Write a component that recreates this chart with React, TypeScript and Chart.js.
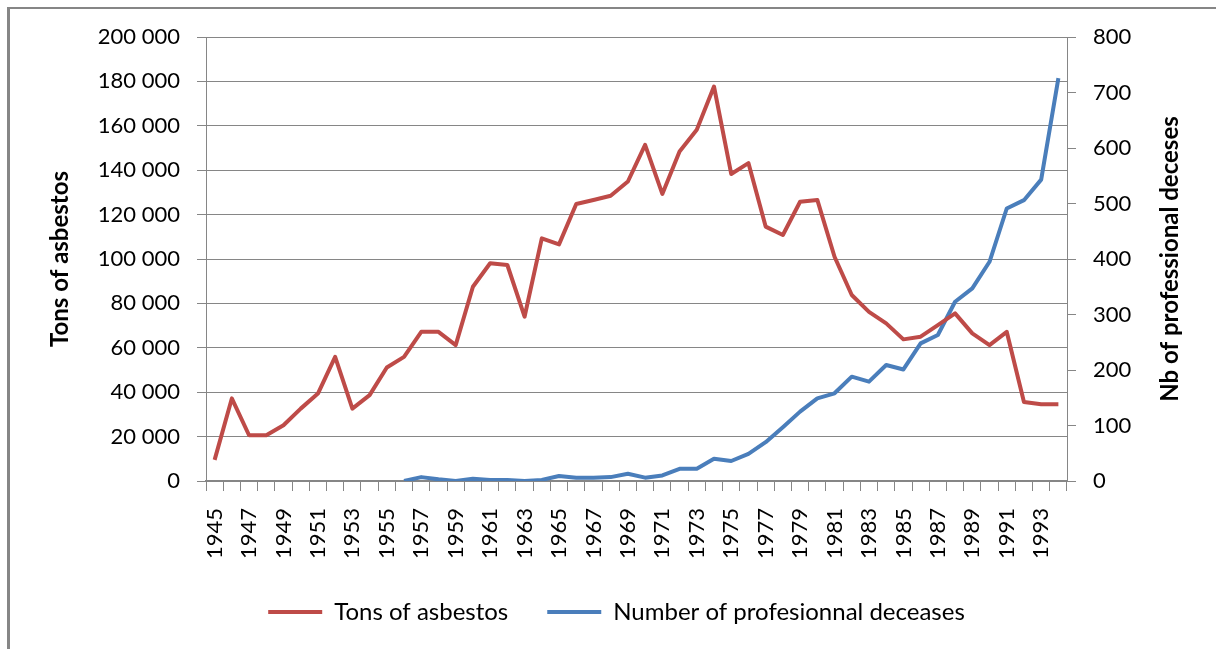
import React, { useEffect, useRef } from 'react';
import { Chart, registerables, Legend } from 'chart.js';

Chart.register(...registerables);

const years = [
  '1945', '1946', '1947', '1948', '1949', '1950', '1951', '1952', '1953', '1954',
  '1955', '1956', '1957', '1958', '1959', '1960', '1961', '1962', '1963', '1964',
  '1965', '1966', '1967', '1968', '1969', '1970', '1971', '1972', '1973', '1974',
  '1975', '1976', '1977', '1978', '1979', '1980', '1981', '1982', '1983', '1984',
  '1985', '1986', '1987', '1988', '1989', '1990', '1991', '1992', '1993', '1994',
];

const tonsOfAsbestos = [
  9500, 37200, 20600, 20600, 25100, 32600, 39400, 55900, 32600, 38700,
  51100, 55900, 67200, 67200, 61200, 87500, 98100, 97300, 74000, 109300,
  106600, 124800, 126600, 128500, 134900, 151400, 129300, 148400, 158200, 177700,
  138300, 143200, 114600, 110800, 125800, 126600, 101000, 83800, 76200, 71000,
  63800, 65000, 70200, 75500, 66500, 61200, 67200, 35600, 34600, 34600,
];

const professionalDeceases = [
  null, null, null, null, null, null, null, null, null, null,
  null, 0, 7, 3, 0, 4, 2, 2, 0, 2,
  9, 6, 6, 7, 13, 6, 10, 22, 22, 40,
  36, 49, 70, 97, 125, 149, 158, 188, 179, 209,
  201, 248, 263, 323, 347, 395, 491, 506, 543, 726,
];

const seriesLabels = ['Tons of asbestos', 'Number of profesionnal deceases'];
const axisTitles = ['Tons of asbestos', 'Nb of professional deceses'];

const RED = '#BE4B48';
const BLUE = '#4A7EBB';
const GRID = '#868686';
const FONT = 'Lato';

const fmtThousands = (v: number) =>
  String(v).replace(/\B(?=(\d{3})+(?!\d))/g, ' ');

// Draws the right-hand axis title reading bottom-to-top (as in the reference)
const rightTitlePlugin = {
  id: 'rightTitle',
  afterDraw(chart: any) {
    const { ctx, chartArea } = chart;
    const scale = chart.scales.y1;
    ctx.save();
    ctx.font = `bold 24px ${FONT}`;
    ctx.fillStyle = '#000';
    ctx.textAlign = 'center';
    ctx.textBaseline = 'middle';
    ctx.translate(scale.right - 46, (chartArea.top + chartArea.bottom) / 2);
    ctx.rotate(-Math.PI / 2);
    ctx.fillText(axisTitles[1], 0, 0);
    ctx.restore();
  },
};

export default function App() {
  const canvasRef = useRef<HTMLCanvasElement | null>(null);

  useEffect(() => {
    const canvas = canvasRef.current;
    if (!canvas) return;
    const defaultGen = (Legend as any).defaults.labels.generateLabels;
    const chart = new Chart(canvas, {
      type: 'line',
      data: {
        labels: years,
        datasets: [
          {
            label: seriesLabels[0],
            data: tonsOfAsbestos,
            borderColor: RED,
            backgroundColor: RED,
            borderWidth: 4,
            pointRadius: 0,
            tension: 0,
            borderJoinStyle: 'round',
            yAxisID: 'y',
          },
          {
            label: seriesLabels[1],
            data: professionalDeceases,
            borderColor: BLUE,
            backgroundColor: BLUE,
            borderWidth: 4,
            pointRadius: 0,
            tension: 0,
            borderJoinStyle: 'round',
            yAxisID: 'y1',
          },
        ],
      },
      options: {
        responsive: false,
        animation: false,
        layout: { padding: { top: 37, bottom: 15, left: 17, right: 0 } },
        plugins: {
          tooltip: { enabled: false },
          legend: {
            position: 'bottom',
            labels: {
              color: '#000',
              font: { family: FONT, size: 24 },
              boxWidth: 54,
              boxHeight: 4,
              padding: 39,
              generateLabels: (c: any) =>
                defaultGen(c).map((l: any) => ({ ...l, lineWidth: 0 })),
            },
          },
        },
        scales: {
          x: {
            type: 'category',
            offset: true,
            grid: {
              offset: true,
              drawOnChartArea: false,
              drawTicks: true,
              tickLength: 10,
              color: GRID,
              lineWidth: 1,
            },
            border: { display: true, color: GRID, width: 2 },
            ticks: {
              autoSkip: false,
              minRotation: 90,
              maxRotation: 90,
              padding: 17,
              color: '#000',
              font: { family: FONT, size: 22 },
              callback: (_v: any, i: number) => (i % 2 === 0 ? years[i] : ''),
            },
            afterFit: (s: any) => {
              s.height = 80;
            },
          },
          y: {
            position: 'left',
            min: 0,
            max: 200000,
            ticks: {
              stepSize: 20000,
              padding: 17,
              color: '#000',
              font: { family: FONT, size: 22 },
              callback: (v: any) => fmtThousands(Number(v)),
            },
            grid: { color: GRID, lineWidth: 1, tickLength: 9, drawTicks: true },
            border: { display: true, color: GRID, width: 1 },
            title: {
              display: true,
              text: axisTitles[0],
              color: '#000',
              font: { family: FONT, size: 24, weight: 'bold' },
              padding: { top: 28.6, bottom: 0 },
            },
            afterFit: (s: any) => {
              s.width = 189;
            },
          },
          y1: {
            position: 'right',
            min: 0,
            max: 800,
            ticks: {
              stepSize: 100,
              padding: 17,
              color: '#000',
              font: { family: FONT, size: 22 },
            },
            grid: {
              drawOnChartArea: false,
              color: GRID,
              lineWidth: 1,
              tickLength: 9,
              drawTicks: true,
            },
            border: { display: true, color: GRID, width: 1 },
            title: { display: false },
            afterFit: (s: any) => {
              s.width = 149;
            },
          },
        },
      } as any,
      plugins: [rightTitlePlugin],
    });
    return () => chart.destroy();
  }, []);

  return (
    <div
      style={{
        position: 'fixed',
        left: 0,
        top: 0,
        width: 1216,
        height: 649,
        background: '#fff',
        overflow: 'hidden',
      }}
    >
      <canvas
        ref={canvasRef}
        width={1216}
        height={649}
        style={{ position: 'absolute', left: 0, top: 0, width: 1216, height: 649 }}
      />
      <div
        style={{
          position: 'absolute',
          left: 7,
          top: 7,
          width: 1209,
          height: 2,
          background: GRID,
          pointerEvents: 'none',
        }}
      />
      <div
        style={{
          position: 'absolute',
          left: 7,
          top: 7,
          width: 3,
          height: 642,
          background: GRID,
          pointerEvents: 'none',
        }}
      />
    </div>
  );
}
